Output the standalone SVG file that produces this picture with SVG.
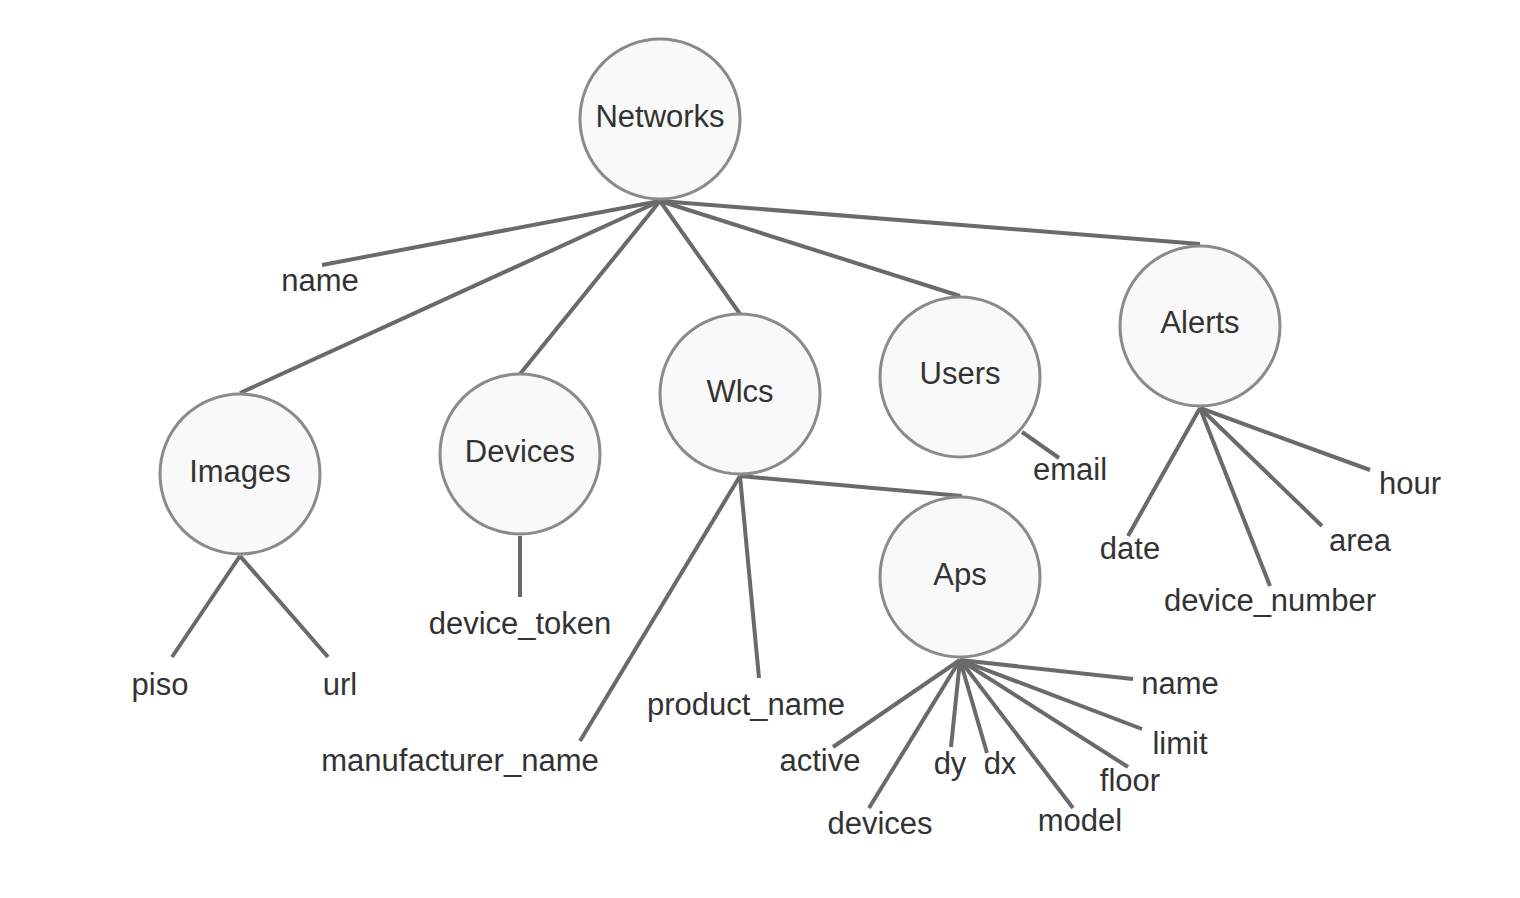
<svg xmlns="http://www.w3.org/2000/svg" width="1520" height="898" viewBox="0 0 1520 898">
<style>
.n circle{fill:#f9f9f9;stroke:#8a8a8a;stroke-width:3}
text{font-family:"Liberation Sans",Arial,sans-serif;font-size:31px;fill:#333;text-anchor:middle}
#connectors line{stroke:#6a6a6a;stroke-width:4;stroke-linecap:butt}
</style>
<rect width="1520" height="898" fill="#fff"/>
<g id="connectors">
<line x1="660" y1="201" x2="322" y2="265"/>
<line x1="660" y1="201" x2="240" y2="393"/>
<line x1="660" y1="201" x2="520" y2="374"/>
<line x1="660" y1="201" x2="740" y2="314"/>
<line x1="660" y1="201" x2="960" y2="296"/>
<line x1="660" y1="201" x2="1200" y2="244"/>
<line x1="240" y1="556" x2="172" y2="657"/>
<line x1="240" y1="556" x2="328" y2="657"/>
<line x1="520" y1="536" x2="520" y2="597"/>
<line x1="740" y1="476" x2="580" y2="741"/>
<line x1="740" y1="476" x2="759" y2="678"/>
<line x1="740" y1="476" x2="962" y2="496"/>
<line x1="1022" y1="432" x2="1059" y2="458"/>
<line x1="1200" y1="408" x2="1128" y2="536"/>
<line x1="1200" y1="408" x2="1270" y2="586"/>
<line x1="1200" y1="408" x2="1322" y2="526"/>
<line x1="1200" y1="408" x2="1370" y2="470"/>
<line x1="960" y1="660" x2="833" y2="747"/>
<line x1="960" y1="660" x2="869" y2="808"/>
<line x1="960" y1="660" x2="951" y2="747"/>
<line x1="960" y1="660" x2="987" y2="753"/>
<line x1="960" y1="660" x2="1073" y2="808"/>
<line x1="960" y1="660" x2="1128" y2="767"/>
<line x1="960" y1="660" x2="1142" y2="729"/>
<line x1="960" y1="660" x2="1133" y2="679"/>
</g>
<g id="networks" class="n"><circle cx="660" cy="119" r="80"/><text x="660" y="127">Networks</text></g>
<g id="images" class="n"><circle cx="240" cy="474" r="80"/><text x="240" y="482">Images</text></g>
<g id="devices" class="n"><circle cx="520" cy="454" r="80"/><text x="520" y="462">Devices</text></g>
<g id="wlcs" class="n"><circle cx="740" cy="394" r="80"/><text x="740" y="402">Wlcs</text></g>
<g id="users" class="n"><circle cx="960" cy="377" r="80"/><text x="960" y="384">Users</text></g>
<g id="alerts" class="n"><circle cx="1200" cy="326" r="80"/><text x="1200" y="333">Alerts</text></g>
<g id="aps" class="n"><circle cx="960" cy="577" r="80"/><text x="960" y="585">Aps</text></g>
<g id="attr-name"><text x="320" y="291">name</text></g>
<g id="attr-piso"><text x="160" y="695">piso</text></g>
<g id="attr-url"><text x="340" y="695">url</text></g>
<g id="attr-device_token"><text x="520" y="634">device_token</text></g>
<g id="attr-manufacturer_name"><text x="460" y="771">manufacturer_name</text></g>
<g id="attr-product_name"><text x="746" y="715">product_name</text></g>
<g id="attr-email"><text x="1070" y="480">email</text></g>
<g id="attr-date"><text x="1130" y="559">date</text></g>
<g id="attr-device_number"><text x="1270" y="611">device_number</text></g>
<g id="attr-area"><text x="1360" y="551">area</text></g>
<g id="attr-hour"><text x="1410" y="494">hour</text></g>
<g id="attr-active"><text x="820" y="771">active</text></g>
<g id="attr-devices"><text x="880" y="834">devices</text></g>
<g id="attr-dy"><text x="950" y="774">dy</text></g>
<g id="attr-dx"><text x="1000" y="774">dx</text></g>
<g id="attr-model"><text x="1080" y="831">model</text></g>
<g id="attr-floor"><text x="1130" y="791">floor</text></g>
<g id="attr-limit"><text x="1180" y="754">limit</text></g>
<g id="attr-aps-name"><text x="1180" y="694">name</text></g>
</svg>
